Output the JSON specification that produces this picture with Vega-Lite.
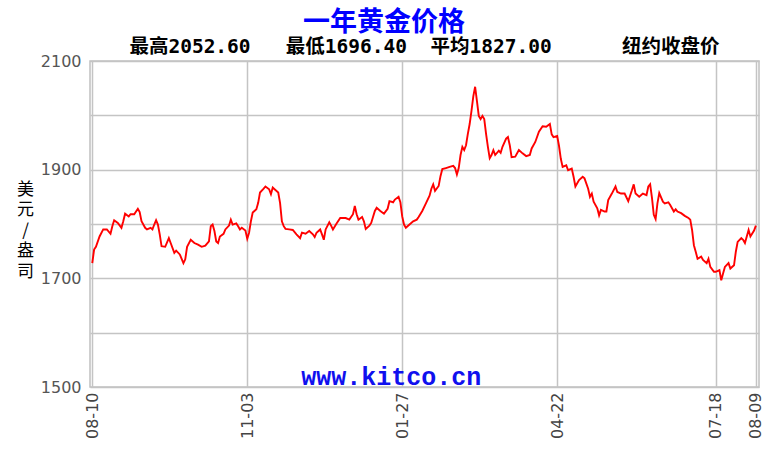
{
  "$schema": "https://vega.github.io/schema/vega-lite/v6.json",
  "width": 669,
  "height": 326,
  "autosize": {"type": "none"},
  "padding": {"left": 90, "top": 61, "right": 23, "bottom": 69},
  "background": "#ffffff",
  "title": {
    "text": "一年黄金价格\u3000\u3000\u3000\u200b",
    "subtitle": "最高2052.60\u00a0\u00a0\u00a0最低1696.40\u00a0\u00a0平均1827.00\u00a0\u00a0\u00a0\u00a0\u00a0\u00a0纽约收盘价",
    "anchor": "middle",
    "frame": "group",
    "font": "Noto Sans CJK SC",
    "fontSize": 27,
    "fontWeight": "bold",
    "color": "#0000ff",
    "subtitleFont": "DejaVu Sans Mono, Noto Sans CJK SC",
    "subtitleFontSize": 19.5,
    "subtitleFontWeight": "bold",
    "subtitleColor": "#000000",
    "subtitlePadding": 1,
    "offset": -4
  },
  "config": {
    "view": {"stroke": "#c0c0c0", "strokeWidth": 1.5}
  },
  "layer": [
    {
      "data": {
        "values": [
          {"date": "2021-08-10", "price": 1728}, {"date": "2021-08-11", "price": 1753}, {"date": "2021-08-12", "price": 1758}, {"date": "2021-08-14", "price": 1777},
          {"date": "2021-08-16", "price": 1790}, {"date": "2021-08-18", "price": 1790}, {"date": "2021-08-20", "price": 1782}, {"date": "2021-08-21", "price": 1796},
          {"date": "2021-08-22", "price": 1807}, {"date": "2021-08-24", "price": 1802}, {"date": "2021-08-26", "price": 1793}, {"date": "2021-08-27", "price": 1805},
          {"date": "2021-08-28", "price": 1819}, {"date": "2021-08-30", "price": 1814}, {"date": "2021-08-31", "price": 1818}, {"date": "2021-09-02", "price": 1818},
          {"date": "2021-09-04", "price": 1828}, {"date": "2021-09-05", "price": 1822}, {"date": "2021-09-06", "price": 1805}, {"date": "2021-09-08", "price": 1793},
          {"date": "2021-09-09", "price": 1790}, {"date": "2021-09-11", "price": 1793}, {"date": "2021-09-12", "price": 1790}, {"date": "2021-09-13", "price": 1799},
          {"date": "2021-09-14", "price": 1807}, {"date": "2021-09-15", "price": 1799}, {"date": "2021-09-16", "price": 1781}, {"date": "2021-09-17", "price": 1759},
          {"date": "2021-09-19", "price": 1758}, {"date": "2021-09-21", "price": 1774}, {"date": "2021-09-22", "price": 1765}, {"date": "2021-09-24", "price": 1747},
          {"date": "2021-09-25", "price": 1751}, {"date": "2021-09-27", "price": 1744}, {"date": "2021-09-29", "price": 1728}, {"date": "2021-09-30", "price": 1735},
          {"date": "2021-10-01", "price": 1758}, {"date": "2021-10-03", "price": 1771}, {"date": "2021-10-05", "price": 1765}, {"date": "2021-10-07", "price": 1762},
          {"date": "2021-10-09", "price": 1758}, {"date": "2021-10-11", "price": 1760}, {"date": "2021-10-13", "price": 1768}, {"date": "2021-10-14", "price": 1796},
          {"date": "2021-10-15", "price": 1799}, {"date": "2021-10-16", "price": 1787}, {"date": "2021-10-17", "price": 1768}, {"date": "2021-10-18", "price": 1765},
          {"date": "2021-10-19", "price": 1777}, {"date": "2021-10-21", "price": 1782}, {"date": "2021-10-22", "price": 1790}, {"date": "2021-10-24", "price": 1797},
          {"date": "2021-10-25", "price": 1808}, {"date": "2021-10-26", "price": 1799}, {"date": "2021-10-28", "price": 1801}, {"date": "2021-10-29", "price": 1796},
          {"date": "2021-10-30", "price": 1790}, {"date": "2021-10-31", "price": 1793}, {"date": "2021-11-02", "price": 1788}, {"date": "2021-11-03", "price": 1773},
          {"date": "2021-11-04", "price": 1784}, {"date": "2021-11-05", "price": 1805}, {"date": "2021-11-06", "price": 1821}, {"date": "2021-11-08", "price": 1827},
          {"date": "2021-11-09", "price": 1839}, {"date": "2021-11-10", "price": 1858}, {"date": "2021-11-12", "price": 1865}, {"date": "2021-11-13", "price": 1869},
          {"date": "2021-11-15", "price": 1864}, {"date": "2021-11-16", "price": 1855}, {"date": "2021-11-17", "price": 1867}, {"date": "2021-11-18", "price": 1864},
          {"date": "2021-11-20", "price": 1858}, {"date": "2021-11-21", "price": 1839}, {"date": "2021-11-22", "price": 1805}, {"date": "2021-11-23", "price": 1796},
          {"date": "2021-11-24", "price": 1791}, {"date": "2021-11-26", "price": 1790}, {"date": "2021-11-28", "price": 1789}, {"date": "2021-11-30", "price": 1781},
          {"date": "2021-12-02", "price": 1774}, {"date": "2021-12-03", "price": 1784}, {"date": "2021-12-05", "price": 1782}, {"date": "2021-12-07", "price": 1787},
          {"date": "2021-12-09", "price": 1781}, {"date": "2021-12-10", "price": 1776}, {"date": "2021-12-11", "price": 1784}, {"date": "2021-12-13", "price": 1790},
          {"date": "2021-12-14", "price": 1781}, {"date": "2021-12-15", "price": 1771}, {"date": "2021-12-16", "price": 1790}, {"date": "2021-12-18", "price": 1803},
          {"date": "2021-12-19", "price": 1797}, {"date": "2021-12-20", "price": 1790}, {"date": "2021-12-22", "price": 1801}, {"date": "2021-12-24", "price": 1811},
          {"date": "2021-12-27", "price": 1811}, {"date": "2021-12-29", "price": 1808}, {"date": "2021-12-31", "price": 1818}, {"date": "2022-01-01", "price": 1833},
          {"date": "2022-01-02", "price": 1818}, {"date": "2022-01-03", "price": 1808}, {"date": "2022-01-05", "price": 1813}, {"date": "2022-01-06", "price": 1805},
          {"date": "2022-01-07", "price": 1791}, {"date": "2022-01-09", "price": 1797}, {"date": "2022-01-10", "price": 1802}, {"date": "2022-01-12", "price": 1824},
          {"date": "2022-01-13", "price": 1830}, {"date": "2022-01-15", "price": 1824}, {"date": "2022-01-17", "price": 1819}, {"date": "2022-01-19", "price": 1828},
          {"date": "2022-01-20", "price": 1842}, {"date": "2022-01-22", "price": 1840}, {"date": "2022-01-23", "price": 1845}, {"date": "2022-01-25", "price": 1850},
          {"date": "2022-01-26", "price": 1840}, {"date": "2022-01-27", "price": 1814}, {"date": "2022-01-28", "price": 1799}, {"date": "2022-01-29", "price": 1793},
          {"date": "2022-01-31", "price": 1799}, {"date": "2022-02-02", "price": 1805}, {"date": "2022-02-04", "price": 1808}, {"date": "2022-02-05", "price": 1813},
          {"date": "2022-02-07", "price": 1824}, {"date": "2022-02-09", "price": 1838}, {"date": "2022-02-11", "price": 1852}, {"date": "2022-02-12", "price": 1865},
          {"date": "2022-02-13", "price": 1873}, {"date": "2022-02-14", "price": 1861}, {"date": "2022-02-16", "price": 1870}, {"date": "2022-02-17", "price": 1888},
          {"date": "2022-02-18", "price": 1901}, {"date": "2022-02-20", "price": 1903}, {"date": "2022-02-22", "price": 1905}, {"date": "2022-02-24", "price": 1907},
          {"date": "2022-02-25", "price": 1903}, {"date": "2022-02-26", "price": 1891}, {"date": "2022-02-27", "price": 1903}, {"date": "2022-02-28", "price": 1927},
          {"date": "2022-03-01", "price": 1942}, {"date": "2022-03-02", "price": 1936}, {"date": "2022-03-03", "price": 1945}, {"date": "2022-03-04", "price": 1966},
          {"date": "2022-03-05", "price": 1984}, {"date": "2022-03-06", "price": 2008}, {"date": "2022-03-07", "price": 2035}, {"date": "2022-03-08", "price": 2052.6},
          {"date": "2022-03-09", "price": 2026}, {"date": "2022-03-10", "price": 1999}, {"date": "2022-03-11", "price": 1993}, {"date": "2022-03-12", "price": 1999},
          {"date": "2022-03-13", "price": 1993}, {"date": "2022-03-14", "price": 1966}, {"date": "2022-03-15", "price": 1942}, {"date": "2022-03-16", "price": 1921},
          {"date": "2022-03-17", "price": 1927}, {"date": "2022-03-18", "price": 1936}, {"date": "2022-03-19", "price": 1927}, {"date": "2022-03-21", "price": 1935},
          {"date": "2022-03-22", "price": 1931}, {"date": "2022-03-23", "price": 1942}, {"date": "2022-03-25", "price": 1957}, {"date": "2022-03-26", "price": 1960},
          {"date": "2022-03-27", "price": 1945}, {"date": "2022-03-28", "price": 1923}, {"date": "2022-03-30", "price": 1924}, {"date": "2022-04-01", "price": 1936},
          {"date": "2022-04-03", "price": 1930}, {"date": "2022-04-05", "price": 1925}, {"date": "2022-04-07", "price": 1927}, {"date": "2022-04-08", "price": 1939},
          {"date": "2022-04-10", "price": 1951}, {"date": "2022-04-12", "price": 1970}, {"date": "2022-04-14", "price": 1980}, {"date": "2022-04-16", "price": 1979},
          {"date": "2022-04-18", "price": 1984}, {"date": "2022-04-19", "price": 1965}, {"date": "2022-04-20", "price": 1960}, {"date": "2022-04-22", "price": 1962},
          {"date": "2022-04-23", "price": 1944}, {"date": "2022-04-24", "price": 1920}, {"date": "2022-04-25", "price": 1905}, {"date": "2022-04-27", "price": 1908},
          {"date": "2022-04-28", "price": 1899}, {"date": "2022-04-30", "price": 1902}, {"date": "2022-05-01", "price": 1887}, {"date": "2022-05-02", "price": 1869},
          {"date": "2022-05-04", "price": 1881}, {"date": "2022-05-06", "price": 1887}, {"date": "2022-05-07", "price": 1884}, {"date": "2022-05-09", "price": 1865},
          {"date": "2022-05-10", "price": 1850}, {"date": "2022-05-11", "price": 1856}, {"date": "2022-05-12", "price": 1841}, {"date": "2022-05-14", "price": 1829},
          {"date": "2022-05-15", "price": 1816}, {"date": "2022-05-16", "price": 1826}, {"date": "2022-05-18", "price": 1823}, {"date": "2022-05-19", "price": 1823},
          {"date": "2022-05-20", "price": 1844}, {"date": "2022-05-22", "price": 1856}, {"date": "2022-05-24", "price": 1869}, {"date": "2022-05-25", "price": 1859},
          {"date": "2022-05-27", "price": 1856}, {"date": "2022-05-29", "price": 1856}, {"date": "2022-05-31", "price": 1842}, {"date": "2022-06-02", "price": 1862},
          {"date": "2022-06-03", "price": 1873}, {"date": "2022-06-04", "price": 1856}, {"date": "2022-06-06", "price": 1850}, {"date": "2022-06-08", "price": 1856},
          {"date": "2022-06-10", "price": 1853}, {"date": "2022-06-11", "price": 1869}, {"date": "2022-06-12", "price": 1873}, {"date": "2022-06-13", "price": 1848},
          {"date": "2022-06-14", "price": 1817}, {"date": "2022-06-15", "price": 1809}, {"date": "2022-06-16", "price": 1838}, {"date": "2022-06-17", "price": 1857},
          {"date": "2022-06-19", "price": 1841}, {"date": "2022-06-20", "price": 1838}, {"date": "2022-06-22", "price": 1840}, {"date": "2022-06-23", "price": 1835},
          {"date": "2022-06-25", "price": 1823}, {"date": "2022-06-26", "price": 1827}, {"date": "2022-06-27", "price": 1823}, {"date": "2022-06-29", "price": 1820},
          {"date": "2022-07-01", "price": 1815}, {"date": "2022-07-03", "price": 1811}, {"date": "2022-07-04", "price": 1808}, {"date": "2022-07-05", "price": 1789},
          {"date": "2022-07-06", "price": 1761}, {"date": "2022-07-07", "price": 1749}, {"date": "2022-07-08", "price": 1736}, {"date": "2022-07-10", "price": 1740},
          {"date": "2022-07-11", "price": 1734}, {"date": "2022-07-13", "price": 1728}, {"date": "2022-07-14", "price": 1736}, {"date": "2022-07-15", "price": 1721},
          {"date": "2022-07-17", "price": 1712}, {"date": "2022-07-18", "price": 1712}, {"date": "2022-07-20", "price": 1715}, {"date": "2022-07-21", "price": 1696.4},
          {"date": "2022-07-22", "price": 1709}, {"date": "2022-07-23", "price": 1721}, {"date": "2022-07-25", "price": 1728}, {"date": "2022-07-26", "price": 1718},
          {"date": "2022-07-28", "price": 1724}, {"date": "2022-07-29", "price": 1749}, {"date": "2022-07-30", "price": 1767}, {"date": "2022-08-01", "price": 1774},
          {"date": "2022-08-02", "price": 1771}, {"date": "2022-08-03", "price": 1765}, {"date": "2022-08-05", "price": 1789}, {"date": "2022-08-06", "price": 1777},
          {"date": "2022-08-08", "price": 1788}, {"date": "2022-08-09", "price": 1797}
        ]
      },
      "mark": {"type": "line", "color": "#ff0000", "strokeWidth": 1.9},
      "encoding": {
        "x": {
          "field": "date",
          "type": "temporal",
          "scale": {
            "type": "utc",
            "domain": [
              {"year": 2021, "month": 8, "date": 8, "hours": 18, "utc": true},
              {"year": 2022, "month": 8, "date": 10, "hours": 17, "utc": true}
            ]
          },
          "axis": {
            "title": null,
            "values": [
              {"year": 2021, "month": 8, "date": 10, "utc": true},
              {"year": 2021, "month": 11, "date": 3, "utc": true},
              {"year": 2022, "month": 1, "date": 27, "utc": true},
              {"year": 2022, "month": 4, "date": 22, "utc": true},
              {"year": 2022, "month": 7, "date": 18, "utc": true},
              {"year": 2022, "month": 8, "date": 9, "utc": true}
            ],
            "format": "%m-%d",
            "labelAngle": -90,
            "labelFont": "DejaVu Sans",
            "labelFontSize": 16,
            "labelColor": "#444444",
            "labelPadding": 5,
            "labelOverlap": false,
            "labelFlush": false,
            "labelBound": false,
            "ticks": false,
            "domain": false,
            "grid": true,
            "gridColor": "#c4c4c4",
            "gridWidth": 1.5
          }
        },
        "y": {
          "field": "price",
          "type": "quantitative",
          "scale": {"domain": [1500, 2100], "nice": false, "zero": false},
          "axis": {
            "title": ["美", "元", "/", "盎", "司"],
            "titleAngle": 0,
            "titleX": -65,
            "titleY": 128,
            "titleAlign": "center",
            "titleBaseline": "middle",
            "titleFont": "Noto Sans CJK SC",
            "titleFontSize": 17,
            "titleFontWeight": "normal",
            "titleColor": "#000000",
            "titleLineHeight": 20.5,
            "values": [1500, 1600, 1700, 1800, 1900, 2000, 2100],
            "labelExpr": "datum.value % 200 == 0 ? '' : datum.label",
            "format": "d",
            "labelFont": "DejaVu Sans",
            "labelFontSize": 16,
            "labelColor": "#555555",
            "labelPadding": 9,
            "ticks": false,
            "domain": false,
            "grid": true,
            "gridColor": "#c4c4c4",
            "gridWidth": 1.5
          }
        }
      }
    },
    {
      "data": {"values": [{}]},
      "mark": {
        "type": "text",
        "font": "Liberation Mono",
        "fontSize": 25,
        "fontWeight": "bold",
        "color": "#1010ee",
        "align": "center",
        "baseline": "middle"
      },
      "encoding": {
        "x": {"datum": {"year": 2022, "month": 1, "date": 21, "utc": true}, "type": "temporal"},
        "y": {"datum": 1518, "type": "quantitative"},
        "text": {"value": "www.kitco.cn"}
      }
    }
  ]
}
